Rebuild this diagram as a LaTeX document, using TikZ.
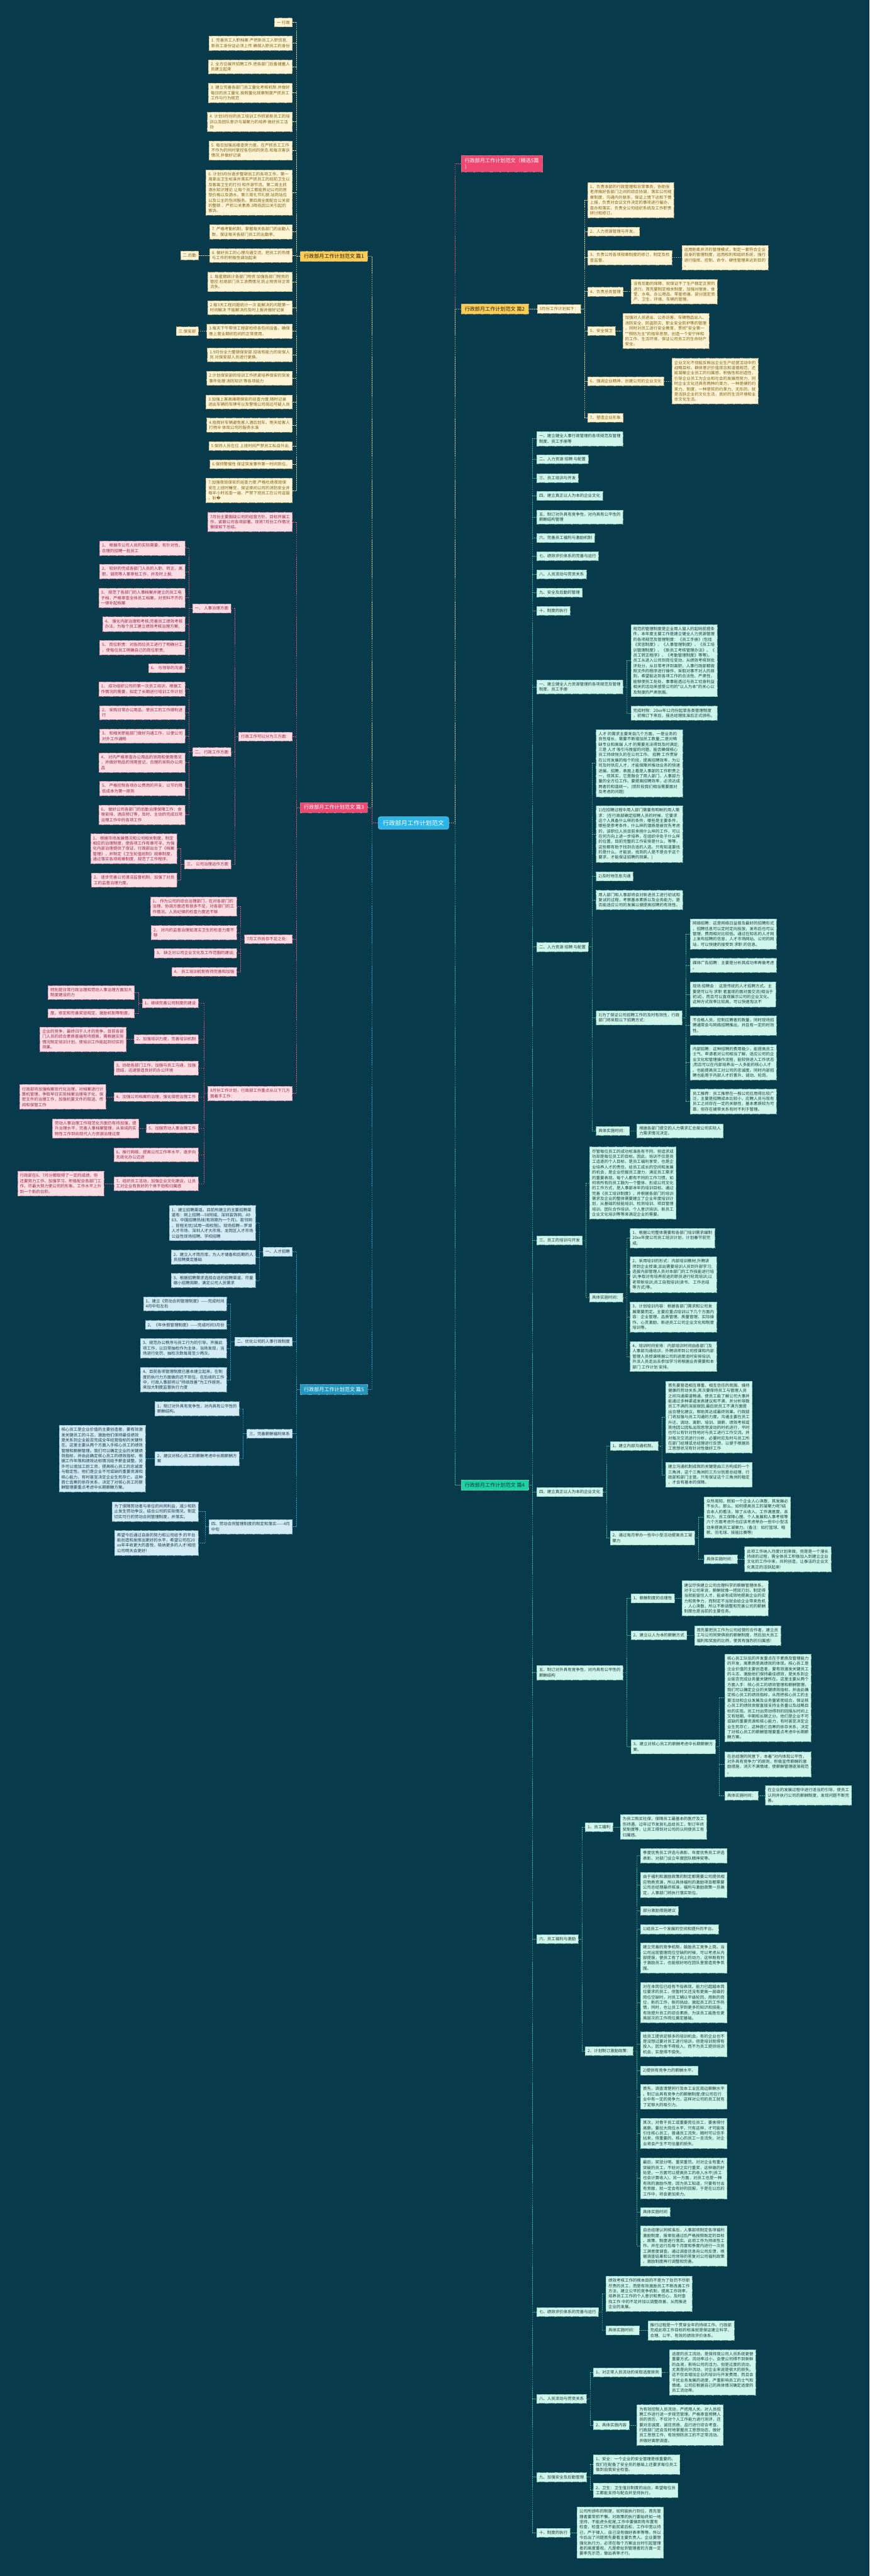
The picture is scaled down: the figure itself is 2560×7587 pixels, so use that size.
\documentclass[tikz,border=0pt]{standalone}
\usepackage{fontspec}
\newfontfamily\cjk{Noto Sans CJK SC}
\newfontfamily\djv{DejaVu Sans}
\usetikzlibrary{calc}
\definecolor{bg}{HTML}{073A4B}
\definecolor{yF}{HTML}{FFF5D6}\definecolor{yD}{HTML}{BFA66A}\definecolor{yT}{HTML}{7F5F12}\definecolor{yL}{HTML}{F2E3A0}
\definecolor{pF}{HTML}{FDDDE4}\definecolor{pD}{HTML}{D37A95}\definecolor{pT}{HTML}{962848}\definecolor{pL}{HTML}{E4577E}
\definecolor{bF}{HTML}{D2EBF5}\definecolor{bD}{HTML}{7FB0C4}\definecolor{bT}{HTML}{173A4A}\definecolor{bL}{HTML}{2BA3CF}
\definecolor{gF}{HTML}{D0F6EC}\definecolor{gD}{HTML}{7CC6B4}\definecolor{gT}{HTML}{173A3A}\definecolor{gL}{HTML}{34C9A3}
\definecolor{rL}{HTML}{E9557D}
\definecolor{mY}{HTML}{F8CD58}\definecolor{mP}{HTML}{EA4A72}\definecolor{mB}{HTML}{1F97BF}\definecolor{mG}{HTML}{1DD1A1}\definecolor{mR}{HTML}{EF476F}\definecolor{mC}{HTML}{2BB5E7}
\tikzset{
 leaf/.style={draw, dash pattern=on 2.5pt off 1.5pt, line width=0.8pt, inner xsep=7pt, inner ysep=7.5pt, align=left, font=\cjk\fontsize{12}{15.5}\selectfont},
 ny/.style={leaf, fill=yF, draw=yD, text=yT},
 np/.style={leaf, fill=pF, draw=pD, text=pT},
 nb/.style={leaf, fill=bF, draw=bD, text=bT},
 ng/.style={leaf, fill=gF, draw=gD, text=gT},
 lnk/.style={dash pattern=on 3pt off 2.5pt, line width=1pt},
 ly/.style={lnk, draw=yL}, lp/.style={lnk, draw=pL}, lb/.style={lnk, draw=bL}, lg/.style={lnk, draw=gL}, lr/.style={lnk, draw=rL},
 mainnode/.style={draw, dash pattern=on 2.5pt off 1.5pt, line width=0.8pt, inner xsep=11pt, inner ysep=8pt, align=left, font=\cjk\fontsize{15}{18}\selectfont},
}
\newcommand\LS[4]{\draw[#1] (#2.west) -- ++(-11,0) coordinate (#2s); \draw[#1] (#2s |- #3.east) -- (#2s |- #4.east);}
\newcommand\LT[3]{\foreach \x in {#3}{\draw[#1] (#2s |- \x.east) -- (\x.east);}}
\newcommand\RS[4]{\draw[#1] (#2.east) -- ++(11,0) coordinate (#2s); \draw[#1] (#2s |- #3.west) -- (#2s |- #4.west);}
\newcommand\RT[3]{\foreach \x in {#3}{\draw[#1] (#2s |- \x.west) -- (\x.west);}}
\begin{document}
\begin{tikzpicture}[x=1pt,y=-1pt]
\useasboundingbox (0,0) rectangle (2560,7587);
\fill[bg] (0,0) rectangle (2560,7587);
% ---------- center and main branches
\node[draw=mC!70!white, fill=mC, rounded corners=6pt, line width=1pt, text=white, inner xsep=14pt, inner ysep=10pt, font=\cjk\fontsize{18}{21}\selectfont, anchor=west] (ctr) at (1113,2424) {行政部月工作计划范文};
\node[mainnode, fill=mY, draw=yD, text=black!80!brown, anchor=east] (b1) at (1083,755) {行政部月工作计划范文 篇1};
\node[mainnode, fill=mP, draw=pD, text=white, anchor=east] (b3) at (1083,2378) {行政部月工作计划范文 篇3};
\node[mainnode, fill=mB, draw=bD, text=white, anchor=east] (b5) at (1083,4092) {行政部月工作计划范文 篇5};
\node[mainnode, fill=mR, draw=pD, text=white, anchor=west] (r0) at (1357,482) {行政部月工作计划范文（精选5篇\\）};
\node[mainnode, fill=mY, draw=yD, text=black!80!brown, anchor=west] (b2) at (1357,910) {行政部月工作计划范文 篇2};
\node[mainnode, fill=mG, draw=gD, text=bg, anchor=west] (b4) at (1357,4374) {行政部月工作计划范文 篇4};
% ---------- 篇1
\node[ny, anchor=east] (a1) at (861,66) {一 行政};
\node[ny, anchor=east] (a2) at (861,127) {1. 完善员工入职档案.严把新员工入职信息,\\新员工身份证必须上传.确保入职员工的身份};
\node[ny, anchor=east] (a3) at (861,196.5) {2. 全方位展开招聘工作.把各部门后备储蓄人\\员建立起来};
\node[ny, anchor=east] (a4) at (861,273.5) {3. 建立完善各部门员工量化考核机制.并做好\\每日的员工量化.按照量化规章制度严抓员工\\工作与行为规范};
\node[ny, anchor=east] (a5) at (861,358.5) {4. 计划9月份的员工培训工作抓紧新员工的培\\训以及团队意识与凝聚力的培养 做好员工活\\动};
\node[ny, anchor=east] (a6) at (861,443) {5. 每日加强巡楼查房力度。在严抓员工工作\\不作为的同时掌控各包间的房态.和每次客诉\\情况.并做好记录};
\node[ny, anchor=east] (a7) at (861,567) {6. 计划9月份逐步整顿员工的各项工作。第一\\周拿出卫生标准并落实严抓员工的班前卫生以\\及客离卫生的打扫 和开源节流。第二周主抓\\酒水知识理论.让每个员工都能熟记公司的房\\型价格以及酒水。第三周礼节礼貌.站岗站位\\以及公主的包间服务。第四周全面配合公关部\\的整顿 ，严抓公关素质.3降低因公关引起的\\客诉。};
\node[ny, anchor=east] (a8) at (861,683) {7. 严格考勤机制，掌握每天各部门的出勤人\\数，保证每天各部门员工的出勤率。};
\node[ny, anchor=east] (a9) at (861,752) {8. 做好员工的心理沟通交流，把员工的热情\\与工作的积极性调动起来};
\node[ny, anchor=east] (hq) at (585,752) {二.后勤};
\node[ny, anchor=east] (a10) at (861,830) {1. 每星期统计各部门物资 加强各部门物资的\\管控.杜绝部门员工浪费情况.防止物资非正常\\流失。};
\node[ny, anchor=east] (a11) at (861,906) {2.每3天工程问题统计一次 能解决的问题第一\\时间解决 不能解决的及时上报并做好记录};
\node[ny, anchor=east] (a12) at (861,975.5) {3.每天下午带领工程部检修各包间设备。确保\\晚上营业期间包间的正常使用。};
\node[ny, anchor=east] (ba) at (584,975.5) {三.保安部};
\node[ny, anchor=east] (a13) at (861,1045) {1.9月份全力整顿保安部.招收有能力的安保人\\员.对保安部人员进行更换。};
\node[ny, anchor=east] (a14) at (861,1114) {2.计划保安部的培训工作抓紧培养保安的突发\\事件处理 消防知识 等各项能力};
\node[ny, anchor=east] (a15) at (861,1184) {3.加强上客高峰期保安的巡查力度.随时记录\\进出车辆的车牌号以及警惕公司周边可疑人员};
\node[ny, anchor=east] (a16) at (861,1252) {4.指挥好车辆避免客人酒后划车。雨天给客人\\打雨伞 体现公司的服务水准};
\node[ny, anchor=east] (a17) at (861,1313.5) {5.保持人员在位 上班时间严禁员工私自外出.};
\node[ny, anchor=east] (a18) at (861,1367.5) {6.保持警惕性 保证突发事件第一时间到位。};
\node[ny, anchor=east] (a19) at (861,1444.5) {7.加强夜班保安的巡查力度.严格杜绝夜班保\\安在上班时睡觉，保证夜间公司的消防安全并\\每半小时巡查一遍，严禁下班员工在公司逗留\\。鈥{\djv �}};
% ---------- 篇3
\node[np, anchor=east] (pA) at (861,1537.5) {7月份主要围绕公司的经营方针、目标开展工\\作，紧跟公司各项部署。现将7月份工作情况\\做接如下总结。};
\node[np, anchor=east] (pB) at (861,2169) {行政工作可以分为三方面：};
\node[np, anchor=east] (pB1) at (680,1792) {一、 人事治理方面};
\node[np, anchor=east] (pB1a) at (545,1614.5) {1、 根据市公司人员的实际需要，有针对性、\\合理的招聘一批员工};
\node[np, anchor=east] (pB1b) at (545,1683.5) {2、 较好的完成各部门人员的入职、转正、离\\职、调岗等人事审批工作，并及时上报;};
\node[np, anchor=east] (pB1c) at (545,1761) {3、 规范了各部门的人事档案并建立的员工电\\子档，严格审查全体员工档案，对资料不齐的\\一律补起档案};
\node[np, anchor=east] (pB1d) at (545,1838) {4、 强化内部治理和考核;完善员工绩效考核\\办法，为每个员工建立绩效考核治理方案;};
\node[np, anchor=east] (pB1e) at (545,1907.5) {5、 岗位职责：对各岗位员工进行了明确分工\\，使每位员工明确自己的岗位职责;};
\node[np, anchor=east] (pB1f) at (545,1968) {6、 与领导的沟通};
\node[np, anchor=east] (pB2) at (680,2214.5) {二、 行政工作方面};
\node[np, anchor=east] (pB2a) at (545,2029.5) {1、 成功组织公司的第一次员工培训，根据工\\作情况的需要，拟定了长期进行培训工作计划};
\node[np, anchor=east] (pB2b) at (545,2099) {2、 采购日常办公用品，使员工的工作顺利进\\行};
\node[np, anchor=east] (pB2c) at (545,2168) {3、 和相关职能部门做好沟通工作，以使公司\\对外工作通畅};
\node[np, anchor=east] (pB2d) at (545,2245.5) {4、 对内严格审查办公用品的领用和使用情况\\，并做好物品的领用登记，合理的采购办公用\\品};
\node[np, anchor=east] (pB2e) at (545,2322) {5、 严格控制各项办公费用的开支，以节约降\\低成本为第一原则};
\node[np, anchor=east] (pB2f) at (545,2399.5) {6、 做好公司各部门的后勤治理保障工作：食\\宿安排、酒店预订等，及时、主动的完成日常\\治理工作中的各项工作};
\node[np, anchor=east] (pB3) at (680,2546) {三、 公司治理运作方面};
\node[np, anchor=east] (pB3a) at (521,2499.5) {1、 根据市场发展情况和公司相关制度，制定\\相应的治理制度，使各项工作有章可寻，为强\\化内部治理提供了保证，行政部出台了《档案\\管理》，并制定《卫生轮值班制》规章制度，\\通过落实各项规章制度，规范了工作程序。};
\node[np, anchor=east] (pB3b) at (521,2592) {2、 逐步完善公司清洁监督机制，加强了对员\\工的监督治理力度。};
\node[np, anchor=east] (pC) at (861,2765.5) {7月工作尚存不足之处：};
\node[np, anchor=east] (pCa) at (697,2669.5) {1、 作为公司的综合治理部门，在对各部门的\\治理、协调方面还有很多不足，对各部门的工\\作情况、人员纪律的检查力度还不够};
\node[np, anchor=east] (pCb) at (697,2746.5) {2、 对内的监督治理如清洁卫生的检查力度不\\够};
\node[np, anchor=east] (pCc) at (697,2807.5) {3、 缺乏对公司企业文化及工作范围的建设;};
\node[np, anchor=east] (pCd) at (697,2861.5) {4、 员工培训机制有待完善和加强};
\node[np, anchor=east] (pD) at (861,3220.5) {8月份工作计划，行政部工作重点从以下几方\\面着手工作：};
\node[np, anchor=east] (pD1) at (584,2954) {1、继续完善公司制度的建设};
\node[np, anchor=east] (pD1a) at (396,2923) {特别是日常行政治理和劳动人事治理方面加大\\制度建设的力};
\node[np, anchor=east] (pD1b) at (396,2984) {度。修定和完善奖惩规定、激励机制等制度。};
\node[np, anchor=east] (pD2) at (584,3061) {2、加强培训力度，完善培训机制};
\node[np, anchor=east] (pD2x) at (372,3061) {企业的竞争，最终归于人才的竞争。目前各部\\门人员的综合素质普遍有待提高，需根据实际\\情况制定培训计划，使培训工作能起到切实的\\效果。};
\node[np, anchor=east] (pD3) at (584,3145.5) {3、协助各部门工作，加强与员工沟通，加强\\团结，迅速营造良好的办公环境};
\node[np, anchor=east] (pD4) at (584,3230.5) {4、加强公司档案的治理，强化保密治理工作};
\node[np, anchor=east] (pD4x) at (312,3230.5) {行政部将加强档案现代化治理，对档案进行计\\算机管理，争取早日实现档案治理电子化，保\\密文件的治理工作，加强机要文件的取送、传\\阅和保管工作};
\node[np, anchor=east] (pD5) at (584,3323.5) {5、加强劳动人事治理工作};
\node[np, anchor=east] (pD5x) at (409,3323.5) {劳动人事治理工作规范化方面仍有待加强，提\\升治理水平，完善人事档案管理，从单纯的实\\物性工作到向现代人力资源治理过度};
\node[np, anchor=east] (pD6) at (584,3401) {6、推行网络，提高公司工作率水平，逐步向\\无纸化办公迈进};
\node[np, anchor=east] (pD7) at (584,3486) {7、组织员工活动，加强企业文化建设，让员\\工对企业有良好的个体干劲和归属感};
\node[np, anchor=east] (pD7x) at (306,3486) {行政部在6、7月分都取得了一定的成绩，但\\还要努力工作、加强学习、积极配合各部门工\\作，尽最大努力使公司的形象、工作水平上升\\到一个新的台阶。};
% ---------- 篇5
\node[nb, anchor=east] (eE1) at (861,3687) {一、人才招聘};
\node[nb, anchor=east] (e1a) at (753,3602) {1、建立招聘渠道。目前所建立的主要招聘渠\\道有：网上招聘---58同城、深圳装饰网、A9\\63、中国招聘热线(有效期为一个月)、若邻网\\、前程无忧(试用一周权限)。现场招聘---罗湖\\人才市场、深圳人才大市场、龙岗区人才市场\\公益性现场招聘、学校招聘};
\node[nb, anchor=east] (e1b) at (753,3702.5) {2、建立人才简历库，为人才储备和后期的人\\员招聘奠定基础};
\node[nb, anchor=east] (e1c) at (753,3771) {3、根据招聘需求选择合适的招聘渠道，尽量\\缩小招聘周期，满足公司人员需求};
\node[nb, anchor=east] (eE2) at (861,3951.5) {二、优化公司的人事行政制度};
\node[nb, anchor=east] (e2a) at (668,3840) {1、建立《劳动合同管理制度》-----完成时间\\4月中旬左右};
\node[nb, anchor=east] (e2b) at (668,3902) {2、《年休假管理制度》-----完成时间3月份};
\node[nb, anchor=east] (e2c) at (668,3971) {3、规范办公秩序与员工行为的引导。开展此\\项工作，以日常抽检作为主体，当场发现，当\\场进行处罚，抽检次数每周至少两次。};
\node[nb, anchor=east] (e2d) at (668,4063.5) {4、目前各项管理制度已基本建立起来，在制\\度的执行力方面做的还不到位。在后续的工作\\中，行政人事部将以"持续改善"为工作原则，\\来加大制度监督执行力度};
\node[nb, anchor=east] (eE3) at (861,4222.5) {三、完善薪酬福利体系};
\node[nb, anchor=east] (e3a) at (705,4149) {1、制订对外具有竞争性，对内具有公平性的\\薪酬结构。};
\node[nb, anchor=east] (e3b) at (705,4296) {2、建议对核心员工的薪酬考虑中长期薪酬方\\案};
\node[nb, anchor=east] (e3bx) at (428,4296) {核心员工是企业价值的主要创造者，要有效激\\ 发关键员工的斗志，激励他们保持最佳绩效\\是关系到企业能否完成全年经营指标的关键所\\在。这里主要从两个方面入手核心员工的绩效\\管理和薪酬管理。我们可以确定企业的关键绩\\效指标，并由此确定核心员工的绩效指标，根\\据工作年限和绩效达标情况给予薪金调整。另\\外可以增加工龄工资，提高核心员工的忠诚度\\与稳定性。他们是企业不可或缺的重要资源和\\核心能力，有时甚至决定企业生死存亡。这种\\唇亡齿寒的依存关系，决定了对核心员工的薪\\酬管理要重点考虑中长期薪酬方案。};
\node[nb, anchor=east] (eE4) at (861,4496.5) {四、劳动合同管理制度的制定和落实-----4月\\中旬};
\node[nb, anchor=east] (e4a) at (584,4451.5) {为了保障劳动者与单位的共同利益，减少和防\\止发生劳动争议，结合公司的实际情况，制定\\切实可行的劳动合同管理制度，并落实。};
\node[nb, anchor=east] (e4b) at (584,4544) {希望今后通过自身的努力和公司给予 的平台\\能创造和发挥出更好的水平，希望公司在20\\xx年丰收更大的喜悦，吸纳更多的人才!相信\\公司明天会更好!};
% ---------- 篇2
\node[ny, anchor=west] (m3) at (1581,910) {3月份工作计划如下：};
\node[ny, anchor=west] (y1) at (1730,589) {1、负责本部的行政管理和日常事务，协助张\\老师搞好各部门之间的综合协调，落实公司规\\章制度，沟通内外联系，保证上情下达和下情\\上报，负责对会议文件决定的事项进行催办，\\查办和落实，负责全公司组织系统及工作职责\\研讨和修订。};
\node[ny, anchor=west] (y2) at (1730,681.5) {2、人力资源管理与开发。};
\node[ny, anchor=west] (y3) at (1730,758.5) {3、负责公司各项规章制度的修订，制定及检\\查监督。};
\node[ny, anchor=west] (y3x) at (2007,758.5) {运用刚柔并济的管理模式，制定一套符合企业\\自身的管理制度，运用权利和组织系统，强行\\进行指挥、控制、命令、硬性管理来达到目的\\。};
\node[ny, anchor=west] (y4) at (1730,859) {4、负责总务管理};
\node[ny, anchor=west] (y4x) at (1858,859) {没有后勤的保障，就保证不了生产稳定正常的\\进行。首先要制定相关制度，加强对宿舍、食\\堂、水电、办公用品、零星修缮、部分固定资\\产、卫生、环境、车辆的管理。};
\node[ny, anchor=west] (y5) at (1730,975) {5、安全保卫};
\node[ny, anchor=west] (y5x) at (1833,975) {加强对人员进出、公务访客、车辆物品出入、\\消防安全、防盗防灾、职业安全防护等的管理\\，同时对员工进行安全教育，贯彻"安全第一\\""预防为主"的指导思想，创造一个安宁祥和\\的工作、生活环境，保证公司员工的生命财产\\安全。};
\node[ny, anchor=west] (y6) at (1730,1122.5) {6、强调企业精神，创建公司的企业文化};
\node[ny, anchor=west] (y6x) at (1978,1122.5) {企业文化不但能反映出企业生产经营活动中的\\战略目标，群体意识价值观念和道德规范，还\\能凝聚企业员工的归属感、积极性和创造性，\\引导企业员工为企业和社会的发展而努力，同\\时企业文化还具有两种约束力，一种是硬的约\\束力、制度，一种是软的约束力、无形的，就\\是活跃企业的文化生活，良好的生活环境和业\\余文化生活。};
\node[ny, anchor=west] (y7) at (1730,1230) {7、塑造企业形象};
% ---------- 篇4
\node[ng, anchor=west] (g1) at (1580,1292) {一、建立健全人事行政管理的各项规范及管理\\制度、员工手册等};
\node[ng, anchor=west] (g2) at (1580,1353) {二、人力资源 招聘 与配置};
\node[ng, anchor=west] (g3) at (1580,1407.5) {三、员工培训与开发};
\node[ng, anchor=west] (g4) at (1580,1460.5) {四、建立真正以人为本的企业文化};
\node[ng, anchor=west] (g5) at (1580,1522.5) {五、制订对外具有竞争性，对内具有公平性的\\薪酬结构管理};
\node[ng, anchor=west] (g6) at (1580,1584.5) {六、完善员工福利与激励机制};
\node[ng, anchor=west] (g7) at (1580,1637.5) {七、绩效评价体系的完善与运行};
\node[ng, anchor=west] (g8) at (1580,1691.5) {八、人员流动与劳资关系};
\node[ng, anchor=west] (g9) at (1580,1745.5) {九、安全及后勤的管理};
\node[ng, anchor=west] (g10) at (1580,1798.5) {十、制度的执行};
\node[ng, anchor=west] (G1) at (1580,2023) {一、建立健全人力资源管理的各项规范及管理\\制度、员工手册};
\node[ng, anchor=west] (G1a) at (1857,1945.5) {规范的管理制度是企业用人留人的起码前提条\\件，本年度主要工作是建立健全人力资源管理\\的各项规范及管理制度：《员工手册》(包括\\《奖惩制度》、《人事管理制度》、《员工培\\训管理制度》、《新员工考核管理办法》、《\\员工转正程序》、《考勤管理制度》等等)。\\员工从进入公司到岗位变动，从绩效考核到批\\评处分，从日常考评到离职，人事行政部都按\\照文件的程序进行操作，采取对事不对人的原\\则，希望能达到各项工作的合法性、严肃性，\\能够使员工处处、事事能透过与员工切身利益\\相关的活动来感受公司的"以人为本"的关心以\\及制度的严肃氛围。};
\node[ng, anchor=west] (G1b) at (1857,2100.5) {完成时限：20xx年12月份起草各类管理制度\\，初稿订下来后，报总经理批准后正式颁布。};
\node[ng, anchor=west] (G2) at (1580,2789) {二、人力资源 招聘 与配置};
\node[ng, anchor=west] (G2a) at (1755,2247.5) {人才 的需求主要来自几个方面，一是业务的\\良性增长，需要不断增加员工数量;二是对稀\\缺专业和高端 人才 的需要无法得到及时满足;\\三是 人才 吸引与挽留的问题，能否确保核心\\员工持续恒久的在公司工作。 招聘 工作贯穿\\在公司发展的每个阶段，提高招聘效率，为公\\司及时供应人才，才能保障并推动业务的快速\\进展。招聘，表面上看是人事部的工作职责之\\一，但其实，它是融合了用人部门、人事部力\\量的全方位工作。要提高招聘效率，必须达成\\两者的和谐统一。(现阶段我们相当需要面对\\及考虑的问题)};
\node[ng, anchor=west] (G2b) at (1755,2456.5) {1)在招聘过程中用人部门需要有明晰的用人需\\求：(在行政部确定招聘人员的时候，它要求\\这个人具备什么样的条件，哪些是主要条件，\\哪些是参考条件，什么样的潜质是被优先考虑\\的，该职位人员目前承担什么样的工作，可以\\在何方向上进一步培养，在组织中处于什么样\\的位置，目前完整的工作安排是什么，等等，\\这些都有助于找到合适的人选。只有知道要找\\的是什么，才能说，找到的人是不是合乎这个\\要求，才能保证招聘的效果。)};
\node[ng, anchor=west] (G2c) at (1755,2580.5) {2)及时地信息沟通};
\node[ng, anchor=west] (G2d) at (1755,2650.5) {用人部门和人事部将会对新进员工进行初试和\\复试的过程，考察基本素质以及业务能力，是\\否能适应公司的发展以便提高招聘的有效性。};
\node[ng, anchor=west] (G2e) at (1755,2997.5) {3)为了保证公司招聘工作的及时有效性，行政\\部门将采取以下招聘方式：};
\node[ng, anchor=west] (G2e1) at (2032,2751) {网络招聘：这是网络日益普及最好的招聘形式\\，招聘信息可以定时定向投放，发布后也可以\\管理，费用相对比较低。通过在知名的人才网\\上发布招聘的信息，人才市场网站、公司的网\\站，可以快捷的接受到 求职 的信息。};
\node[ng, anchor=west] (G2e2) at (2032,2843) {媒体广告招聘：主要是分析其成功率再做考虑\\。};
\node[ng, anchor=west] (G2e3) at (2032,2928.5) {现场 招聘会 ：这是传统的人才招聘方式。主\\要是可以与 求职 者直观的面对面交流(相当于\\初试)，而且可以直观展示公司的企业文化。\\这种方式效率比较高，可以快速淘汰不};
\node[ng, anchor=west] (G2e4) at (2032,3020) {不合格人员，控制应聘者的数量，同时现场招\\聘通常会与网络招聘推出，并且有一定的时效\\性。};
\node[ng, anchor=west] (G2e5) at (2032,3128.5) {内部招聘：这种招聘的费用极少，能提高员工\\士气，申请者对公司相当了解，适应公司的企\\业文化和管理操作流程，能较快进入工作状态\\;而且可以在内部培养出一人多能的核心人才\\。也能提高员工对公司的忠诚度。同时内部招\\聘也能用于内部人才的晋升、调动、轮岗。};
\node[ng, anchor=west] (G2e6) at (2032,3244) {员工推荐：员工推荐在一般公司应用得比较广\\泛，主要是招聘成本比较小，应聘人员与现有\\员工之间存在一定的关联性，基本素质较为可\\靠，但存在裙带关系有时不利于管理。};
\node[ng, anchor=west] (G2f) at (1755,3330.5) {具体实施时间：};
\node[ng, anchor=west] (G2fx) at (1875,3330.5) {根据各部门提交的人力需求汇总按公司实际人\\力需求情况决定。};
\node[ng, anchor=west] (G3) at (1580,3653) {三、员工的培训与开发};
\node[ng, anchor=west] (G3a) at (1736,3484) {尽管每位员工的成功标准各有不同，但追求成\\功却是每位员工的目标。因此，培训不仅是员\\工追逐的个人目标，是员工福利享受，也是企\\业培养人才的责任。给员工成长的空间和发展\\的机会，是企业挖掘员工潜力，满足员工需求\\的重要表现。每个人都有不同的工作习惯。如\\何将所有的员工融为一个整体、形成公司文化\\的工作方式，是人事部本年的培训目标。通过\\完善《员工培训制度》，并根据各部门的培训\\需求及企业的整体需要建立了企业年度培训计\\划，从基础的技能培训、检测培训、项目管理\\培训、团队合作培训、个人意识培训、新员工\\企业文化培训等等来满足企业的需要。};
\node[ng, anchor=west] (G3b) at (1736,3821) {具体实施时间：};
\node[ng, anchor=west] (G3b1) at (1855,3646.5) {1、根据公司整体需要和各部门培训需求编制\\20xx年度公司员工培训计划，计划春节前完\\成;};
\node[ng, anchor=west] (G3b2) at (1855,3754) {2、采用培训的形式：内部培训教材;外聘讲\\师到企业授课;派出需要培训人员到外部学习;\\选拔内部管理人员对本部门的工作技能进行培\\训;争取对有培养前途的职员进行轮岗培训;以\\老带新培训;员工自我培训(读书、 工作总结\\等方式)等。};
\node[ng, anchor=west] (G3b3) at (1855,3879) {3、计划培训内容：根据各部门需求和公司发\\展需要而定。主要应重点培训以下几个方面内\\容：企业管理、品质管理、质量管理、实际操\\作、心灵激励、新进员工公司企业文化和制度\\培训等。};
\node[ng, anchor=west] (G3b4) at (1855,3995) {4、培训时间安排：内部培训时间由各部门及\\人事部沟通培训，外聘讲师到公司授课和内部\\管理人员授课根据公司的进度适时安排培训;\\外派人员走出去参加学习将根据业务需要和本\\部门 工作计划 安排。};
\node[ng, anchor=west] (G4) at (1580,4394.5) {四、建立真正以人为本的企业文化};
\node[ng, anchor=west] (G4a) at (1796,4258) {1、建立内部沟通机制。};
\node[ng, anchor=west] (G4a1) at (1960,4173.5) {首先要营造相互尊重、相互信任的氛围、维持\\健康的劳动关系;其次要保持员工与管理人员\\之间沟通渠道畅通，使员工能了解公司大事并\\能通过多种渠道发表建议和不满，并分析导致\\员工不满的深层原因;最后就员工不满方面提\\出合理化建议，帮助其达成最终效果。行政部\\门将加强与员工沟通的力度。沟通主要在员工\\升迁、调动、离职、培训、调薪、绩效考核或\\其他因公因私出现思想波动的时机进行，平时\\也可以有针对性地对与员工进行工作交流。并\\对每次交流进行分析，必要时应及时与员工所\\在部门经理或总经理进行反馈，以便于根据员\\工思想状况有针对性做好工作};
\node[ng, anchor=west] (G4a2) at (1960,4343.5) {建立沟通机制成败的关键是由三方构成的一个\\三角洲，这个三角洲的三方分别是总经理、行\\政部和部门主管。只有保证这个三角洲的稳定\\，才会有基本的保障。};
\node[ng, anchor=west] (G4b) at (1796,4529.5) {2、通过每月举办一些中小型活动提高员工凝\\聚力};
\node[ng, anchor=west] (G4b1) at (2073,4468.5) {众所周知，假如一个企业人心涣散，其发展必\\不长久。那么，如何提高员工的凝聚力呢?结\\合本人的看法，除了从收入、工作满意度、亲\\和力、员工保障心理、个人发展和人事考核等\\六个方面考虑外也应该考虑举办一些中小型活\\动来提高员工凝聚力。(备注：如打篮球、唱\\歌、羽毛球、技能比赛等)};
\node[ng, anchor=west] (G4b2) at (2073,4592) {具体实施时间：};
\node[ng, anchor=west] (G4b2x) at (2192,4592) {此项工作纳入月度计划来做，但是是一个漫长\\持续的过程，需全体员工积极加入到建立企业\\文化的工作中来，共同创造，让泰洁的企业文\\化真正的活跃起来!};
\node[ng, anchor=west] (G5) at (1580,4926.5) {五、制订对外具有竞争性，对内具有公平性的\\薪酬结构};
\node[ng, anchor=west] (G5a) at (1857,4707.5) {1、薪酬制度的合理性};
\node[ng, anchor=west] (G5ax) at (2007,4707.5) {建议尽快建立公司合理科学的薪酬管理体系，\\对于公司来说，薪酬就像一把双刃剑，制定得\\当就能留住人才，能卓有成效地提高企业的实\\力和竞争力，而制定不当就会给企业带来危机\\，人心涣散，所以不断调整和完善公司的薪酬\\制度也是当前的主要任务。};
\node[ng, anchor=west] (G5b) at (1857,4816.5) {2、建立以人为本的薪酬方式};
\node[ng, anchor=west] (G5bx) at (2044,4816.5) {首先要把员工作为公司经营的合作者，建立员\\工与公司同荣俱损的薪酬制度，然后加大员工\\福利和奖励的比例，使其有强烈的归属感!};
\node[ng, anchor=west] (G5c) at (1857,5144.5) {3、建立对核心员工的薪酬考虑中长期薪酬方\\案。};
\node[ng, anchor=west] (G5c1) at (2134,5000.5) {核心员工队伍的开发重点在于素质及管理能力\\的开发，高素质是高绩效的体现。核心员工是\\企业价值的主要创造者，要有效激发关键员工\\的斗志、激励他们保持最佳绩效，是关系到企\\业能否完成业务量关键所在。这里主要从两个\\方面入手：核心员工的绩效管理和薪酬管理。\\我们可以确定企业的关键绩效指标，并由此确\\定核心员工的绩效指标，从而把核心员工的主\\要活动和企业发展及业务量紧密结合，保证核\\心员工的绩效贡献直接支持业务量以及战略目\\标的实现。员工付出劳动得到的回报从时间上\\又有短期、中期和长期之分。他们是企业不可\\或缺的重要资源和核心能力，有时甚至决定企\\业生死存亡，这种唇亡齿寒的依存关系，决定\\了对核心员工的薪酬管理要重点考虑中长期薪\\酬方案。};
\node[ng, anchor=west] (G5c2) at (2134,5196) {在总经理的同意下，本着"对内体现公平性，\\对外具有竞争力"的原则，积极宣传薪酬的激\\励措施，消灭不满情绪，使薪酬管理逐渐规范\\。};
\node[ng, anchor=west] (G5c3) at (2134,5288) {具体实施时间：};
\node[ng, anchor=west] (G5c3x) at (2253,5288) {在企业的发展过程中进行适当的引导，使员工\\认同并执行公司的薪酬制度，发现问题不断完\\善。};
\node[ng, anchor=west] (G6) at (1580,5710.5) {六、员工福利与激励};
\node[ng, anchor=west] (G6a) at (1723,5381) {1、员工福利};
\node[ng, anchor=west] (G6ax) at (1826,5381) {为员工购买社保，保障员工最基本的医疗及工\\伤待遇，过年过节发放礼品给员工，制订年终\\奖制度等，让员工得到对公司的认同使员工有\\归属感。};
\node[ng, anchor=west] (G6b) at (1723,6040.5) {2、计划制订激励政策：};
\node[ng, anchor=west] (G6b1) at (1886,5465.5) {季度优秀员工评选与表彰、年度优秀员工评选\\表彰、对部门设立年度团队精神奖等。};
\node[ng, anchor=west] (G6b2) at (1886,5551.5) {由于福利和激励政策的制定都需要公司提供相\\应物质资源，所以具体福利的激励项目都需要\\公司总经理最终核准，福利与激励政策一旦确\\定，人事部门将执行落实到位。};
\node[ng, anchor=west] (G6b3) at (1886,5627.5) {部分激励措施建议};
\node[ng, anchor=west] (G6b4) at (1886,5681.5) {1)给员工一个发展的空间和提升的平台。};
\node[ng, anchor=west] (G6b5) at (1886,5766) {建立完善的竞争机制，鼓励员工竞争上岗。当\\公司出现管理岗位空缺的时候，可以考虑从内\\部提拔，使员工有了向上的动力，这样既有利\\于激励员工，也能很好地在团队里营造竞争氛\\围。};
\node[ng, anchor=west] (G6b6) at (1886,5897.5) {对在本岗位已经有不俗表现、能力已超越本岗\\位要求的员工，但暂时又还没有更高一层级的\\岗位空缺时，对员工辅以平级轮岗，用新的岗\\位，新的工作，新的挑战，激起员工的工作热\\情，同时，也让员工学到更多的知识和技能，\\有效提升员工的综合素质，为该员工能胜任更\\高层次的工作岗位奠定基础。};
\node[ng, anchor=west] (G6b7) at (1886,6020.5) {给员工提供足够多的培训机会。有的企业也不\\是没想过要对员工进行培训，但是培训就得有\\投入，因为舍不得投入，而不为员工提供培训\\机会，实是得不偿失。};
\node[ng, anchor=west] (G6b8) at (1886,6098) {2)提供有竞争力的薪酬水平。};
\node[ng, anchor=west] (G6b9) at (1886,6175.5) {首先，调查清楚同行及本工业区周边薪酬水平\\。制订出具有竞争力的薪酬制度;使公司在行\\业中有一定的竞争力，这样对公司的员工就有\\了足够大的吸引力。};
\node[ng, anchor=west] (G6b10) at (1886,6283) {其次，对骨干员工或重要岗位员工，要舍得付\\高薪。要拉大岗位水平，只有这样，才可能吸\\引住核心员工，普通员工流失，随时可以信手\\拈来，但重要的、核心的员工一旦流失，对企\\业将会产生不可估量的损失。};
\node[ng, anchor=west] (G6b11) at (1886,6415.5) {最后，奖惩分明、重奖重罚。对对企业有重大\\突破的员工，不妨对之实行重奖，这样做的好\\处是，一方面可以提高员工的收入水平(员工\\也会计算收入)，另一方面，对员工也是一种\\有效的激励作用，因为员工知道，只要有付出\\有贡献，就一定会有好的回报，于是在以后的\\工作中，将会更加卖力。};
\node[ng, anchor=west] (G6b12) at (1886,6515) {具体实施时间};
\node[ng, anchor=west] (G6b13) at (1886,6615) {自总经理认同核准后，人事部将制定各项福利\\激励制度，报审批通过后严格按照既定的目标\\、政策、制度进行落实。此项工作为持续性工\\作。并在运行后每个月度和季度内进行一次员\\工满意度调查。通过调查信息向公司反馈，根\\据调查结果和公司领导的答复对公司福利政策\\、激励制度再行调整和完善。};
\node[ng, anchor=west] (G7) at (1580,6809.5) {七、绩效评价体系的完善与运行};
\node[ng, anchor=west] (G7a) at (1784,6755.5) {绩效考核工作的根本目的不是为了处罚不尽职\\尽责的员工，而是有效激励员工不断改善工作\\方法，建立公平的竞争机制，提高工作效率，\\培养员工工作的个人意识和责任心，及时查\\找工作 中的不足并加以调整改善，从而推进\\企业的发展。};
\node[ng, anchor=west] (G7b) at (1784,6863.5) {具体实施时间：};
\node[ng, anchor=west] (G7bx) at (1907,6863.5) {推行过程是一个贯穿全年的持续工作。行政部\\完成此项工作目标的标准就是保证建立科学、\\合理、公平、有效的绩效评价体系。};
\node[ng, anchor=west] (G8) at (1580,7064.5) {八、人员流动与劳资关系};
\node[ng, anchor=west] (G8a) at (1747,6987) {1、对正常人员流动的采取适度原则};
\node[ng, anchor=west] (G8ax) at (1971,6987) {适度的员工流动，是保持我公司人员系统更替\\重要方式。流动率过小，会使公司得不到新鲜\\的血液，影响公司的活力。但是过度的流动，\\尤其是向外流动，对企业来说是很大的损失。\\这不仅会增加企业的培训与开发费用，而且会\\干扰业务发展的进度，严重影响员工的士气和\\情绪。公司应根据自己的具体情况确定适度的\\员工流动率。};
\node[ng, anchor=west] (G8b) at (1747,7142) {2、具体实施内容};
\node[ng, anchor=west] (G8bx) at (1875,7142) {为有效控制人员流动，严把用人关。对人员招\\聘工作进行进一步规范管理。严格审查预聘人\\员的资历，不仅对个人工作能力进行测评，还\\要对忠诚度、诚信资质、品行进行综合考查。\\行政部门还会及时地掌握员工思想动态，做好\\员工思想工作，有效预防员工的不正常流动。\\并做好离职调查。};
\node[ng, anchor=west] (G9) at (1580,7295.5) {九、加强安全及后勤管理};
\node[ng, anchor=west] (G9a) at (1747,7258.5) {1、安全：一个企业的安全管理是很重要的。\\我们在配备了安全员的基础上还要求每位员工\\做到自我安全检查。};
\node[ng, anchor=west] (G9b) at (1747,7334.5) {2、卫生：卫生值日制度的出台，希望每位员\\工都能支持与配合并坚持执行。};
\node[ng, anchor=west] (G10) at (1580,7459) {十、制度的执行};
\node[ng, anchor=west] (G10x) at (1699,7459) {公司所颁布的制度，如何能执行到位，首先管\\理者要常抓不懈。对政策的执行要始终如一地\\坚持，不能虎头蛇尾;工作中要做到有布置有\\检查，检查工作不能前紧后松，工作中宽以待\\己，严于律人，自己没有做好表率等等。所以\\今后出了问题首先要看主要负责人。企业要想\\强化执行力，必须在每个方案出台时引起管理\\者的高度重视，凡是牵扯到管理者的方面一定\\要率先示范，做出表率才行。};
% ---------- connectors: center
\draw[lr] (ctr.east) -- ++(18,0) |- (r0.west);
\draw[lg] (ctr.east) -- ++(18,0) |- (b4.west);
\draw[ly] (ctr.east) -- ++(18,0) |- (b2.west);
\draw[ly] (ctr.west) -- ++(-18,0) |- (b1.east);
\draw[lb] (ctr.west) -- ++(-18,0) |- (b5.east);
\draw[lp] (ctr.west) -- ++(-18,0) |- (b3.east);
% 篇1
\LS{ly}{b1}{a1}{a19}
\LT{ly}{b1}{a1,a2,a3,a4,a5,a6,a7,a8,a9,a10,a11,a12,a13,a14,a15,a16,a17,a18,a19}
\draw[ly] (a9.west) -- (hq.east);
\draw[ly] (a12.west) -- (ba.east);
% 篇3
\LS{lp}{b3}{pA}{pD} \LT{lp}{b3}{pA,pB,pC,pD}
\LS{lp}{pB}{pB1}{pB3} \LT{lp}{pB}{pB1,pB2,pB3}
\LS{lp}{pB1}{pB1a}{pB1f} \LT{lp}{pB1}{pB1a,pB1b,pB1c,pB1d,pB1e,pB1f}
\LS{lp}{pB2}{pB2a}{pB2f} \LT{lp}{pB2}{pB2a,pB2b,pB2c,pB2d,pB2e,pB2f}
\LS{lp}{pB3}{pB3a}{pB3b} \LT{lp}{pB3}{pB3a,pB3b}
\LS{lp}{pC}{pCa}{pCd} \LT{lp}{pC}{pCa,pCb,pCc,pCd}
\LS{lp}{pD}{pD1}{pD7} \LT{lp}{pD}{pD1,pD2,pD3,pD4,pD5,pD6,pD7}
\LS{lp}{pD1}{pD1a}{pD1b} \LT{lp}{pD1}{pD1a,pD1b}
\draw[lp] (pD2.west) -- (pD2x.east);
\draw[lp] (pD4.west) -- (pD4x.east);
\draw[lp] (pD5.west) -- (pD5x.east);
\draw[lp] (pD7.west) -- (pD7x.east);
% 篇5
\LS{lb}{b5}{eE1}{eE4} \LT{lb}{b5}{eE1,eE2,eE3,eE4}
\LS{lb}{eE1}{e1a}{e1c} \LT{lb}{eE1}{e1a,e1b,e1c}
\LS{lb}{eE2}{e2a}{e2d} \LT{lb}{eE2}{e2a,e2b,e2c,e2d}
\LS{lb}{eE3}{e3a}{e3b} \LT{lb}{eE3}{e3a,e3b}
\draw[lb] (e3b.west) -- (e3bx.east);
\LS{lb}{eE4}{e4a}{e4b} \LT{lb}{eE4}{e4a,e4b}
% 篇2
\draw[ly] (b2.east) -- (m3.west);
\RS{ly}{m3}{y1}{y7} \RT{ly}{m3}{y1,y2,y3,y4,y5,y6,y7}
\draw[ly] (y3.east) -- (y3x.west);
\draw[ly] (y4.east) -- (y4x.west);
\draw[ly] (y5.east) -- (y5x.west);
\draw[ly] (y6.east) -- (y6x.west);
% 篇4
\RS{lg}{b4}{g1}{G10} \RT{lg}{b4}{g1,g2,g3,g4,g5,g6,g7,g8,g9,g10,G1,G2,G3,G4,G5,G6,G7,G8,G9,G10}
\RS{lg}{G1}{G1a}{G1b} \RT{lg}{G1}{G1a,G1b}
\RS{lg}{G2}{G2a}{G2f} \RT{lg}{G2}{G2a,G2b,G2c,G2d,G2e,G2f}
\RS{lg}{G2e}{G2e1}{G2e6} \RT{lg}{G2e}{G2e1,G2e2,G2e3,G2e4,G2e5,G2e6}
\draw[lg] (G2f.east) -- (G2fx.west);
\RS{lg}{G3}{G3a}{G3b} \RT{lg}{G3}{G3a,G3b}
\RS{lg}{G3b}{G3b1}{G3b4} \RT{lg}{G3b}{G3b1,G3b2,G3b3,G3b4}
\RS{lg}{G4}{G4a}{G4b} \RT{lg}{G4}{G4a,G4b}
\RS{lg}{G4a}{G4a1}{G4a2} \RT{lg}{G4a}{G4a1,G4a2}
\RS{lg}{G4b}{G4b1}{G4b2} \RT{lg}{G4b}{G4b1,G4b2}
\draw[lg] (G4b2.east) -- (G4b2x.west);
\RS{lg}{G5}{G5a}{G5c} \RT{lg}{G5}{G5a,G5b,G5c}
\draw[lg] (G5a.east) -- (G5ax.west);
\draw[lg] (G5b.east) -- (G5bx.west);
\RS{lg}{G5c}{G5c1}{G5c3} \RT{lg}{G5c}{G5c1,G5c2,G5c3}
\draw[lg] (G5c3.east) -- (G5c3x.west);
\RS{lg}{G6}{G6a}{G6b} \RT{lg}{G6}{G6a,G6b}
\draw[lg] (G6a.east) -- (G6ax.west);
\RS{lg}{G6b}{G6b1}{G6b13} \RT{lg}{G6b}{G6b1,G6b2,G6b3,G6b4,G6b5,G6b6,G6b7,G6b8,G6b9,G6b10,G6b11,G6b12,G6b13}
\RS{lg}{G7}{G7a}{G7b} \RT{lg}{G7}{G7a,G7b}
\draw[lg] (G7b.east) -- (G7bx.west);
\RS{lg}{G8}{G8a}{G8b} \RT{lg}{G8}{G8a,G8b}
\draw[lg] (G8a.east) -- (G8ax.west);
\draw[lg] (G8b.east) -- (G8bx.west);
\RS{lg}{G9}{G9a}{G9b} \RT{lg}{G9}{G9a,G9b}
\draw[lg] (G10.east) -- (G10x.west);
\end{tikzpicture}
\end{document}
